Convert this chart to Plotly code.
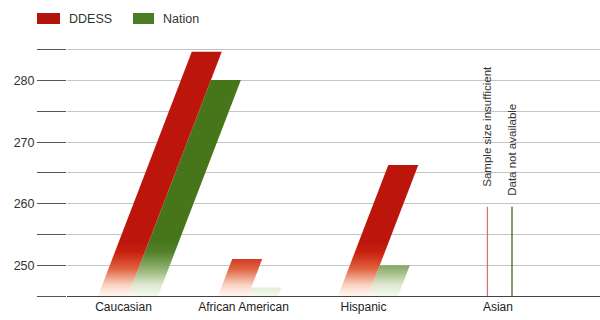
import plotly.graph_objects as go

# ---- data ----
categories = ["Caucasian", "African American", "Hispanic", "Asian"]
ddess = [284.7, 251.0, 266.3, None]
nation = [280.1, 246.4, 250.0, None]
series_names = ["DDESS", "Nation"]
y_tickvals = [245, 250, 255, 260, 265, 270, 275, 280, 285]
y_ticktext = ["", "250", "", "260", "", "270", "", "280", ""]
na_notes = ["Sample size insufficient", "Data not available"]
na_marker_top = 259.5

# ---- layout constants ----
cat_pos = [0, 1, 2, 3.12]
base = 245
y_max = 289.55
bar_w = 0.25
bar_off = [-0.2125, 0.0375]
shear = 0.01968           # x-units per y-unit (slanted 3D look)
grad_stop = 254
na_line_frac = [0.5, 0.32]

red_scale = [[0, "#fff6ef"], [0.2, "#f8d3c2"], [0.5, "#e0603e"], [0.8, "#c6200e"], [1, "#bb150c"]]
green_scale = [[0, "#f5f9f0"], [0.2, "#dfe9d2"], [0.5, "#8fb06e"], [0.8, "#52802a"], [1, "#467619"]]
scales = [red_scale, green_scale]
swatch_cols = ["#b3140c", "#4b7d25"]
line_cols = ["#d07474", "#3f6e14"]
note_shift = [18, 9]

fig = go.Figure()
series = [ddess, nation]
# draw Nation first so DDESS sits in front
for si in [1, 0]:
    vals = series[si]
    for ci, v in enumerate(vals):
        bx = cat_pos[ci] + bar_off[si]
        if v is None:
            xc = bx + bar_w * na_line_frac[si]
            fig.add_trace(go.Scatter(
                x=[xc, xc], y=[base, na_marker_top], mode="lines",
                line=dict(color=line_cols[si], width=1.3),
                hoverinfo="skip", showlegend=False))
            fig.add_annotation(
                x=xc, y=na_marker_top, xref="x", yref="y", text=na_notes[si],
                textangle=-90, showarrow=False, yanchor="bottom", xanchor="center",
                yshift=note_shift[si],
                font=dict(family="Liberation Sans, Arial", size=11.5, color="#333"))
            continue
        dx = shear * (v - base)
        xs = [bx, bx + bar_w, bx + bar_w + dx, bx + dx, bx]
        ys = [base, base, v, v, base]
        fig.add_trace(go.Scatter(
            x=xs, y=ys, mode="lines", fill="toself",
            line=dict(width=0),
            fillgradient=dict(type="vertical", colorscale=scales[si],
                              start=base, stop=grad_stop),
            hoverinfo="skip", showlegend=False))

# ---- manual legend ----
plot_l, plot_r, plot_t, plot_b = 67, 600, 22, 296
def px_x(p):
    return (p - plot_l) / (plot_r - plot_l)
def px_y(p):
    return (plot_b - p) / (plot_b - plot_t)

leg_sw = [(37, 60), (133, 154)]
leg_tx = [69, 163]
for i, name in enumerate(series_names):
    fig.add_shape(type="rect", xref="paper", yref="paper",
                  x0=px_x(leg_sw[i][0]), x1=px_x(leg_sw[i][1]),
                  y0=px_y(24), y1=px_y(13),
                  fillcolor=swatch_cols[i], line=dict(width=0))
    fig.add_annotation(x=px_x(leg_tx[i]), y=px_y(18.5), xref="paper", yref="paper",
                       text=name, showarrow=False, xanchor="left", yanchor="middle",
                       xshift=-2,
                       font=dict(family="Liberation Sans, Arial", size=12.5, color="#333"))

fig.update_layout(
    width=600, height=320,
    margin=dict(l=plot_l, r=600 - plot_r, t=plot_t, b=320 - plot_b),
    paper_bgcolor="white", plot_bgcolor="white",
    showlegend=False,
    font=dict(family="Liberation Sans, Arial", size=12, color="#333"),
    xaxis=dict(range=[(plot_l - 123.5) / 120, (plot_r - 123.5) / 120],
               tickvals=cat_pos, ticktext=categories, showgrid=False,
               zeroline=False, showline=True, linecolor="#444", linewidth=1,
               ticks="", tickfont=dict(size=12, color="#222"), fixedrange=True),
    yaxis=dict(range=[base, y_max], tickvals=y_tickvals, ticktext=y_ticktext,
               showgrid=True, gridcolor="#c4c4c4", gridwidth=1,
               zeroline=False, showline=False,
               ticks="outside", ticklen=29, tickcolor="#555", tickwidth=1,
               tickfont=dict(size=12.5, color="#333"), fixedrange=True),
)

fig.write_html("out.html")
